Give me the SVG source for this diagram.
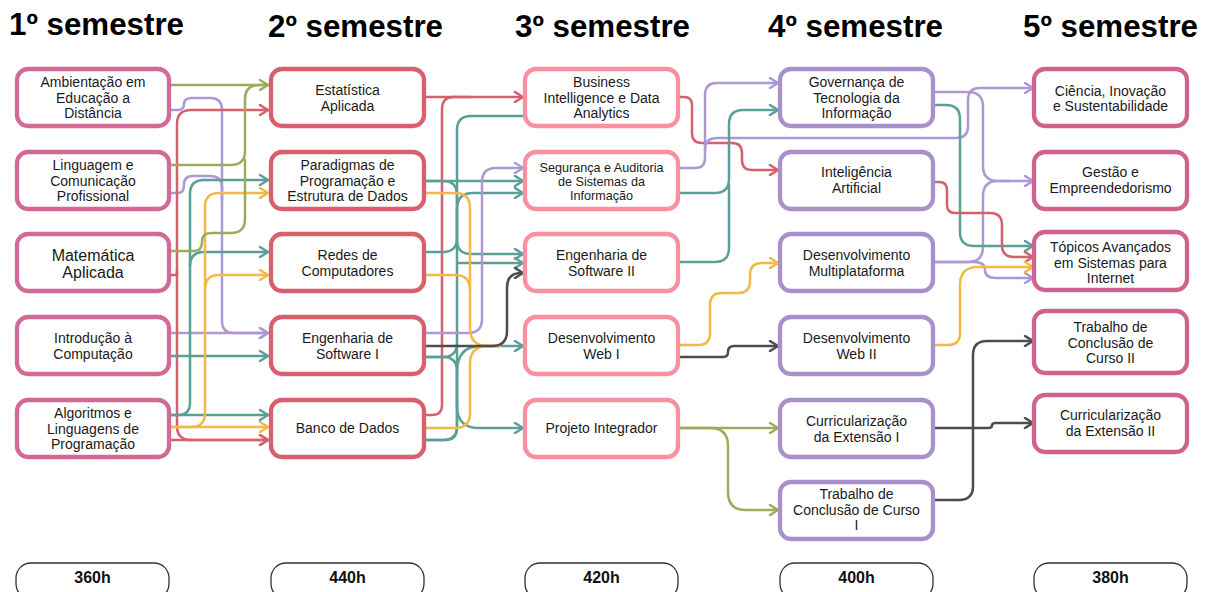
<svg xmlns="http://www.w3.org/2000/svg" width="1212" height="592" viewBox="0 0 1212 592">
<style>
.title{font-family:"Liberation Sans",Arial,sans-serif;font-weight:bold;font-size:31.3px;fill:#000}
.t{font-family:"Liberation Sans",Arial,sans-serif;font-size:14px;fill:#1a1a1a;text-anchor:middle}
.ts{font-family:"Liberation Sans",Arial,sans-serif;font-size:12.6px;fill:#1a1a1a;text-anchor:middle}
.tb{font-family:"Liberation Sans",Arial,sans-serif;font-size:16px;fill:#1a1a1a;text-anchor:middle}
.hr{font-family:"Liberation Sans",Arial,sans-serif;font-size:16px;font-weight:bold;fill:#111;text-anchor:middle}
.box{fill:#fff;stroke-width:4.3}
.c1{stroke:#d16a97}.c2{stroke:#d85f6d}.c3{stroke:#f8909f}.c4{stroke:#a890cb}.c5{stroke:#d0628f}
.pill{fill:#fff;stroke:#333;stroke-width:1.3}
.l{fill:none;stroke-width:2.5;stroke-linecap:round;stroke-linejoin:round}
.g{stroke:#9bad5d}.p{stroke:#ae98d4}.r{stroke:#d85f6d}.tl{stroke:#5c9e98}.y{stroke:#f2b947}.d{stroke:#4d4d4d}
</style>
<defs>
<marker id="ag" markerWidth="12" markerHeight="12" viewBox="-10 -6 12 12" refX="0" refY="0" orient="auto" markerUnits="userSpaceOnUse"><path d="M-8,-5 L0,0 L-8,5" fill="none" stroke="#9bad5d" stroke-width="2.5" stroke-linecap="round" stroke-linejoin="round"/></marker>
<marker id="ap" markerWidth="12" markerHeight="12" viewBox="-10 -6 12 12" refX="0" refY="0" orient="auto" markerUnits="userSpaceOnUse"><path d="M-8,-5 L0,0 L-8,5" fill="none" stroke="#ae98d4" stroke-width="2.5" stroke-linecap="round" stroke-linejoin="round"/></marker>
<marker id="ar" markerWidth="12" markerHeight="12" viewBox="-10 -6 12 12" refX="0" refY="0" orient="auto" markerUnits="userSpaceOnUse"><path d="M-8,-5 L0,0 L-8,5" fill="none" stroke="#d85f6d" stroke-width="2.5" stroke-linecap="round" stroke-linejoin="round"/></marker>
<marker id="at" markerWidth="12" markerHeight="12" viewBox="-10 -6 12 12" refX="0" refY="0" orient="auto" markerUnits="userSpaceOnUse"><path d="M-8,-5 L0,0 L-8,5" fill="none" stroke="#5c9e98" stroke-width="2.5" stroke-linecap="round" stroke-linejoin="round"/></marker>
<marker id="ay" markerWidth="12" markerHeight="12" viewBox="-10 -6 12 12" refX="0" refY="0" orient="auto" markerUnits="userSpaceOnUse"><path d="M-8,-5 L0,0 L-8,5" fill="none" stroke="#f2b947" stroke-width="2.5" stroke-linecap="round" stroke-linejoin="round"/></marker>
<marker id="ad" markerWidth="12" markerHeight="12" viewBox="-10 -6 12 12" refX="0" refY="0" orient="auto" markerUnits="userSpaceOnUse"><path d="M-8,-5 L0,0 L-8,5" fill="none" stroke="#4d4d4d" stroke-width="2.5" stroke-linecap="round" stroke-linejoin="round"/></marker>
</defs>
<rect width="1212" height="592" fill="#fff"/>

<g id="titles">
<text class="title" x="9" y="35">1º semestre</text>
<text class="title" x="268" y="37">2º semestre</text>
<text class="title" x="515" y="37">3º semestre</text>
<text class="title" x="768" y="37">4º semestre</text>
<text class="title" x="1023" y="37">5º semestre</text>
</g>

<g id="connectors">
<!-- col1 -> col2 -->
<path class="l p" d="M170,110 H178 Q184,110 184,104 Q184,98 192,98 H210 Q222,98 222,110 V321 Q222,333 234,333 H268" marker-end="url(#ap)"/>
<path class="l p" d="M170,193 H178 Q184,193 184,185 Q184,176 192,176 H210 Q222,176 222,188 V200"/>
<path class="l p" d="M170,333 H268" marker-end="url(#ap)"/>
<path class="l r" d="M170,275 H177 V124 Q177,110 191,110 H268" marker-end="url(#ar)"/>
<path class="l r" d="M177,270 V426 Q177,440 191,440 H268" marker-end="url(#ar)"/>
<path class="l r" d="M170,440 H268" marker-end="url(#ar)"/>
<path class="l tl" d="M170,415 H178 Q190,415 190,403 V194 Q190,180 204,180 H268" marker-end="url(#at)"/>
<path class="l tl" d="M190,266 Q190,252 204,252 H268" marker-end="url(#at)"/>
<path class="l tl" d="M170,415 H268" marker-end="url(#at)"/>
<path class="l tl" d="M170,356 H268" marker-end="url(#at)"/>
<path class="l y" d="M170,427 H191 Q205,427 205,413 V207 Q205,193 219,193 H268" marker-end="url(#ay)"/>
<path class="l y" d="M205,289 Q205,275 219,275 H268" marker-end="url(#ay)"/>
<path class="l y" d="M170,427 H268" marker-end="url(#ay)"/>
<path class="l g" d="M170,85 H268" marker-end="url(#ag)"/>
<path class="l g" d="M170,165 H231 Q245,165 245,151 V99 Q245,85 259,85 H268"/>
<path class="l g" d="M170,251 H194 Q202,251 202,242 Q202,233 211,233 H231 Q245,233 245,219 V160"/>

<!-- col2 -> col3 -->
<path class="l r" d="M425,97 H523" marker-end="url(#ar)"/>
<path class="l r" d="M425,415 H432 Q442,415 442,405 V109 Q442,97 454,97 H470"/>
<path class="l tl" d="M425,440 H445 Q457,440 457,428 V130 Q457,116 471,116 H524"/>
<path class="l tl" d="M457,263 H523" marker-end="url(#at)"/>
<path class="l tl" d="M425,181 H523" marker-end="url(#at)"/>
<path class="l tl" d="M425,181 H443 Q457,181 457,195 V240 Q457,254 471,254 H523" marker-end="url(#at)"/>
<path class="l tl" d="M425,252 H443 Q457,252 457,238 V209 Q457,193 473,193 H523" marker-end="url(#at)"/>
<path class="l tl" d="M425,357 H443 Q457,357 457,343"/>
<path class="l tl" d="M425,440 H443 Q457,440 457,426 V372 Q457,346 481,346 H523" marker-end="url(#at)"/>
<path class="l tl" d="M425,357 H443 Q457,357 457,371 V406 Q457,428 479,428 H523" marker-end="url(#at)"/>
<path class="l p" d="M425,333 H468 Q482,333 482,319 V182 Q482,168 496,168 H523" marker-end="url(#ap)"/>
<path class="l y" d="M425,193 H455 Q470,193 470,208 V328 Q470,346 488,346 H500"/>
<path class="l y" d="M425,275 H455 Q470,275 470,290"/>
<path class="l y" d="M425,428 H455 Q470,428 470,413 V364 Q470,346 488,346 H500"/>
<path class="l d" d="M425,346 H492 Q507,346 507,331 V288 Q507,273 521,273 H523" marker-end="url(#ad)"/>

<!-- col3 -> col4 -->
<path class="l r" d="M678,97 H684 Q692,97 692,105 V133 Q692,143 702,143 H732 Q742,143 742,153 V160 Q742,170 752,170 H778" marker-end="url(#ar)"/>
<path class="l p" d="M678,168 H695 Q705,168 705,158 V95 Q705,83 717,83 H778" marker-end="url(#ap)"/>
<path class="l p" d="M705,150 Q705,138 717,138 H956 Q968,138 968,126 V100 Q968,88 980,88 H1033" marker-end="url(#ap)"/>
<path class="l tl" d="M678,193 H715 Q729,193 729,179 V124 Q729,110 743,110 H778" marker-end="url(#at)"/>
<path class="l tl" d="M678,262 H715 Q729,262 729,248 V185"/>
<path class="l y" d="M678,345 H698 Q710,345 710,333 V305 Q710,293 722,293 H738 Q750,293 750,281 V275 Q750,263 762,263 H778" marker-end="url(#ay)"/>
<path class="l d" d="M678,357 H723 Q728,357 728,352 Q728,346 734,346 H778" marker-end="url(#ad)"/>
<path class="l g" d="M678,428 H778" marker-end="url(#ag)"/>
<path class="l g" d="M678,428 H710 Q728,428 728,446 V492 Q728,510 746,510 H778" marker-end="url(#ag)"/>

<!-- col4 -> col5 -->
<path class="l p" d="M933,92 H968 Q983,92 983,107 V166 Q983,181 998,181 H1033" marker-end="url(#ap)"/>
<path class="l p" d="M933,262 H968 Q983,262 983,247 V196 Q983,181 998,181 H1010"/>
<path class="l p" d="M933,262 H974 Q985,262 985,270 Q985,278 996,278 H1033" marker-end="url(#ap)"/>
<path class="l tl" d="M933,105 H946 Q960,105 960,119 V232 Q960,246 974,246 H1033" marker-end="url(#at)"/>
<path class="l r" d="M933,182 H939 Q947,182 947,190 V205 Q947,213 955,213 H990 Q1002,213 1002,225 V245 Q1002,257 1014,257 H1033" marker-end="url(#ar)"/>
<path class="l y" d="M933,345 H948 Q960,345 960,333 V285 Q960,267 978,267 H1033" marker-end="url(#ay)"/>
<path class="l d" d="M933,428 H988 Q992,428 992,425.5 Q992,423 996,423 H1033" marker-end="url(#ad)"/>
<path class="l d" d="M933,500 H959 Q973,500 973,486 V355 Q973,341 987,341 H1033" marker-end="url(#ad)"/>
</g>

<!-- Column 1 -->
<g id="n-ambientacao"><rect class="box c1" x="17" y="69" width="152" height="57" rx="11"/>
<text class="t" x="93" y="87">Ambientação em</text><text class="t" x="93" y="102.5">Educação a</text><text class="t" x="93" y="118">Distância</text></g>
<g id="n-linguagem"><rect class="box c1" x="17" y="152" width="152" height="57" rx="11"/>
<text class="t" x="93" y="170">Linguagem e</text><text class="t" x="93" y="185.5">Comunicação</text><text class="t" x="93" y="201">Profissional</text></g>
<g id="n-matematica"><rect class="box c1" x="17" y="234" width="152" height="57" rx="11"/>
<text class="tb" x="93" y="260.5">Matemática</text><text class="tb" x="93" y="277.5">Aplicada</text></g>
<g id="n-introducao"><rect class="box c1" x="17" y="317" width="152" height="57" rx="11"/>
<text class="t" x="93" y="343">Introdução à</text><text class="t" x="93" y="358.5">Computação</text></g>
<g id="n-algoritmos"><rect class="box c1" x="17" y="400" width="152" height="57" rx="11"/>
<text class="t" x="93" y="418">Algoritmos e</text><text class="t" x="93" y="433.5">Linguagens de</text><text class="t" x="93" y="449">Programação</text></g>

<!-- Column 2 -->
<g id="n-estatistica"><rect class="box c2" x="271" y="69" width="153" height="57" rx="11"/>
<text class="t" x="347.5" y="95">Estatística</text><text class="t" x="347.5" y="110.5">Aplicada</text></g>
<g id="n-paradigmas"><rect class="box c2" x="271" y="152" width="153" height="57" rx="11"/>
<text class="t" x="347.5" y="170">Paradigmas de</text><text class="t" x="347.5" y="185.5">Programação e</text><text class="t" x="347.5" y="201">Estrutura de Dados</text></g>
<g id="n-redes"><rect class="box c2" x="271" y="234" width="153" height="57" rx="11"/>
<text class="t" x="347.5" y="260">Redes de</text><text class="t" x="347.5" y="275.5">Computadores</text></g>
<g id="n-engsw1"><rect class="box c2" x="271" y="317" width="153" height="57" rx="11"/>
<text class="t" x="347.5" y="343">Engenharia de</text><text class="t" x="347.5" y="358.5">Software I</text></g>
<g id="n-banco"><rect class="box c2" x="271" y="400" width="153" height="57" rx="11"/>
<text class="t" x="347.5" y="433">Banco de Dados</text></g>

<!-- Column 3 -->
<g id="n-bi"><rect class="box c3" x="525" y="69" width="153" height="57" rx="11"/>
<text class="t" x="601.5" y="87">Business</text><text class="t" x="601.5" y="102.5">Intelligence e Data</text><text class="t" x="601.5" y="118">Analytics</text></g>
<g id="n-seguranca"><rect class="box c3" x="525" y="152" width="153" height="57" rx="11"/>
<text class="ts" x="601.5" y="172">Segurança e Auditoria</text><text class="ts" x="601.5" y="186">de Sistemas da</text><text class="ts" x="601.5" y="200">Informação</text></g>
<g id="n-engsw2"><rect class="box c3" x="525" y="234" width="153" height="57" rx="11"/>
<text class="t" x="601.5" y="260">Engenharia de</text><text class="t" x="601.5" y="275.5">Software II</text></g>
<g id="n-web1"><rect class="box c3" x="525" y="317" width="153" height="57" rx="11"/>
<text class="t" x="601.5" y="343">Desenvolvimento</text><text class="t" x="601.5" y="358.5">Web I</text></g>
<g id="n-projeto"><rect class="box c3" x="525" y="400" width="153" height="57" rx="11"/>
<text class="t" x="601.5" y="433">Projeto Integrador</text></g>

<!-- Column 4 -->
<g id="n-governanca"><rect class="box c4" x="780" y="69" width="153" height="57" rx="11"/>
<text class="t" x="856.5" y="87">Governança de</text><text class="t" x="856.5" y="102.5">Tecnologia da</text><text class="t" x="856.5" y="118">Informação</text></g>
<g id="n-ia"><rect class="box c4" x="780" y="152" width="153" height="57" rx="11"/>
<text class="t" x="856.5" y="177">Inteligência</text><text class="t" x="856.5" y="192.5">Artificial</text></g>
<g id="n-multi"><rect class="box c4" x="780" y="234" width="153" height="57" rx="11"/>
<text class="t" x="856.5" y="260">Desenvolvimento</text><text class="t" x="856.5" y="275.5">Multiplataforma</text></g>
<g id="n-web2"><rect class="box c4" x="780" y="317" width="153" height="57" rx="11"/>
<text class="t" x="856.5" y="343">Desenvolvimento</text><text class="t" x="856.5" y="358.5">Web II</text></g>
<g id="n-curric1"><rect class="box c4" x="780" y="400" width="153" height="57" rx="11"/>
<text class="t" x="856.5" y="426">Curricularização</text><text class="t" x="856.5" y="441.5">da Extensão I</text></g>
<g id="n-tcc1"><rect class="box c4" x="780" y="482" width="153" height="57" rx="11"/>
<text class="t" x="856.5" y="499">Trabalho de</text><text class="t" x="856.5" y="514.5">Conclusão de Curso</text><text class="t" x="856.5" y="530">I</text></g>

<!-- Column 5 -->
<g id="n-ciencia"><rect class="box c5" x="1034" y="69" width="153" height="57" rx="11"/>
<text class="t" x="1110.5" y="95.5">Ciência, Inovação</text><text class="t" x="1110.5" y="111">e Sustentabilidade</text></g>
<g id="n-gestao"><rect class="box c5" x="1034" y="152" width="153" height="57" rx="11"/>
<text class="t" x="1110.5" y="177">Gestão e</text><text class="t" x="1110.5" y="192.5">Empreendedorismo</text></g>
<g id="n-topicos"><rect class="box c5" x="1034" y="232" width="153" height="58" rx="11"/>
<text class="t" x="1110.5" y="252">Tópicos Avançados</text><text class="t" x="1110.5" y="267.5">em Sistemas para</text><text class="t" x="1110.5" y="283">Internet</text></g>
<g id="n-tcc2"><rect class="box c5" x="1034" y="311" width="153" height="62" rx="11"/>
<text class="t" x="1110.5" y="332">Trabalho de</text><text class="t" x="1110.5" y="347.5">Conclusão de</text><text class="t" x="1110.5" y="363">Curso II</text></g>
<g id="n-curric2"><rect class="box c5" x="1034" y="395" width="153" height="57" rx="11"/>
<text class="t" x="1110.5" y="420">Curricularização</text><text class="t" x="1110.5" y="435.5">da Extensão II</text></g>

<!-- Hours -->
<g id="hours">
<rect class="pill" x="16" y="563" width="153" height="36" rx="15"/><text class="hr" x="92.5" y="583">360h</text>
<rect class="pill" x="271" y="563" width="153" height="36" rx="15"/><text class="hr" x="347.5" y="583">440h</text>
<rect class="pill" x="525" y="563" width="153" height="36" rx="15"/><text class="hr" x="601.5" y="583">420h</text>
<rect class="pill" x="780" y="563" width="153" height="36" rx="15"/><text class="hr" x="856.5" y="583">400h</text>
<rect class="pill" x="1034" y="563" width="153" height="36" rx="15"/><text class="hr" x="1110.5" y="583">380h</text>
</g>
</svg>
